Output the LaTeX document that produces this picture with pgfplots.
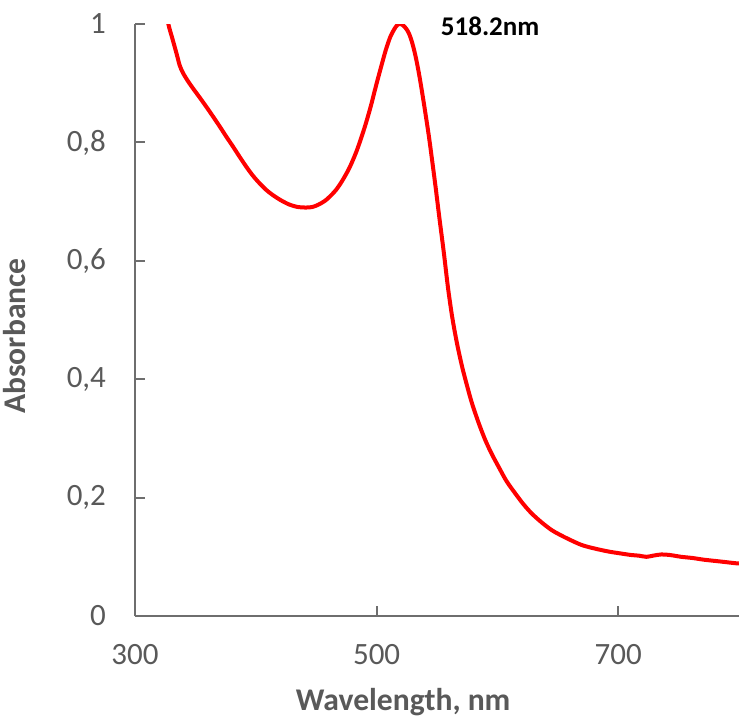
\documentclass[border=0pt]{standalone}
\usepackage{fontspec}
\setmainfont{Carlito}
\usepackage{pgfplots}
\pgfplotsset{compat=1.18}
\usetikzlibrary{calc}
\definecolor{axgray}{RGB}{110,110,110}
\definecolor{txtgray}{RGB}{89,89,89}
\begin{document}
\begin{tikzpicture}
\begin{axis}[
  scale only axis,
  width=302pt, height=296pt,
  xmin=300, xmax=800, ymin=0, ymax=1,
  axis x line*=bottom, axis y line*=left,
  axis line style={axgray, line width=1pt, -},
  xtick={300,500,700}, ytick={0,0.2,0.4,0.6,0.8,1},
  yticklabels={0,{0,2},{0,4},{0,6},{0,8},1},
  tick align=inside, major tick length=5pt,
  tick style={axgray, line width=1pt},
  /pgf/number format/assume math mode=true,
  ticklabel style={font=\fontsize{15.5}{18}\selectfont, text=txtgray},
  xticklabel style={yshift=-10.5pt},
  yticklabel style={xshift=-11pt},
  xlabel={Wavelength, nm}, ylabel={Absorbance},
  label style={font=\fontsize{15.8}{18}\bfseries, text=txtgray},
  xlabel style={at={(axis description cs:0.444,-0.160)}, anchor=base},
  ylabel style={at={(axis description cs:-0.1805,0.473)}, anchor=base},
  clip mode=individual,
]
\addplot[color=red, line width=2pt, smooth, tension=0.5] coordinates {
(324.5,1.04) (327.5,1.001) (331,0.975) (334.4,0.950) (337,0.930) (339.8,0.917)
(344,0.903) (348.1,0.891) (353.5,0.876) (359.1,0.860)
(364.5,0.844) (370.1,0.827) (375.5,0.810) (381.1,0.793) (386.5,0.776) (392.1,0.759)
(397.5,0.744) (403.1,0.731) (408.5,0.720) (414.1,0.711) (421,0.702)
(427.8,0.695) (434.5,0.691) (441.6,0.690) (447,0.691) (452,0.695) (457,0.701) (461,0.708)
(466.5,0.720) (471.8,0.736) (477.5,0.757) (482.8,0.782)
(487,0.806) (491.1,0.832) (495.3,0.862) (499.3,0.894) (503.5,0.926) (507.6,0.956)
(511.5,0.979) (515.8,0.995) (518.6,1.0) (521.8,0.998) (524.5,0.992)
(526.8,0.984) (529.5,0.968) (532.3,0.945) (535,0.917) (537.8,0.883) (540.5,0.848) (543.3,0.810)
(546,0.769) (548.8,0.725) (552,0.672)
(555.7,0.613) (559,0.556) (562.5,0.506) (566.5,0.461) (570.8,0.421) (575,0.388) (579.0,0.359)
(584.5,0.326) (590.0,0.297) (595.5,0.273)
(601.0,0.252) (607.5,0.228) (614.8,0.207) (621.5,0.189) (628.5,0.173) (636.7,0.158) (645.0,0.145)
(652,0.137) (658.8,0.130)
(669.7,0.120) (680.5,0.114) (691.8,0.109) (701,0.106) (711.0,0.103) (717,0.102) (723.3,0.100)
(729,0.102) (735.7,0.104) (743,0.103)
(752.2,0.100) (761.5,0.098) (771.5,0.095) (785,0.092) (797.9,0.089) (800,0.089)
};
\node[anchor=base west, font=\fontsize{13.5}{16}\bfseries, text=black] at (axis cs:547.4,0.981) {518.2nm};
\coordinate (SW) at (rel axis cs:0,0);
\coordinate (NE) at (rel axis cs:1,1);
\end{axis}
\pgfresetboundingbox
\path[use as bounding box] ($(SW)+(-67.5pt,-51.5pt)$) rectangle ($(NE)+(0pt,12pt)$);
\end{tikzpicture}
\end{document}
